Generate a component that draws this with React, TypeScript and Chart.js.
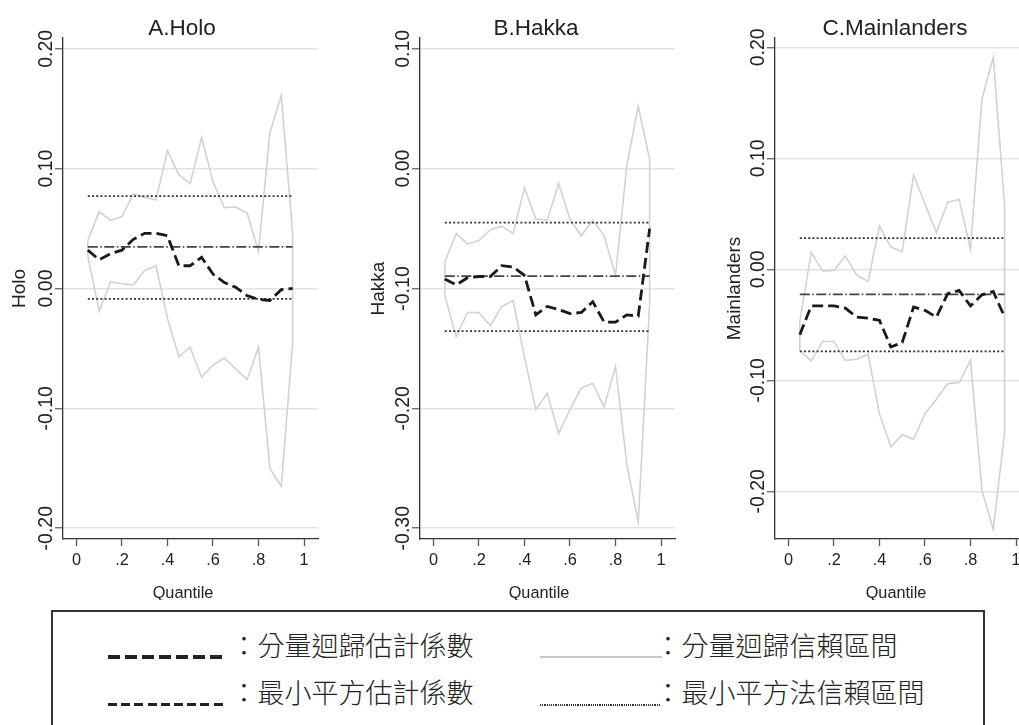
import React, { useEffect, useRef } from "react";
import { Chart, registerables } from "chart.js";

Chart.register(...registerables);

const FONT = '"Liberation Sans", Arial, Helvetica, sans-serif';
const CJK = '"Noto Sans CJK TC", "Noto Sans CJK SC", sans-serif';

// Quantiles at which the regressions were estimated
const quantiles = [0.05, 0.1, 0.15, 0.2, 0.25, 0.3, 0.35, 0.4, 0.45, 0.5, 0.55, 0.6, 0.65, 0.7, 0.75, 0.8, 0.85, 0.9, 0.95];
const xTicks = [0, 0.2, 0.4, 0.6, 0.8, 1];
const xTickLabels = ["0", ".2", ".4", ".6", ".8", "1"];

// A. Holo
const holoQR = [0.032, 0.024, 0.029, 0.032, 0.041, 0.046, 0.046, 0.044, 0.019, 0.019, 0.026, 0.012, 0.005, 0.001, -0.006, -0.009, -0.010, -0.001, 0.0];
const holoUpper = [0.040, 0.064, 0.057, 0.060, 0.079, 0.076, 0.074, 0.115, 0.095, 0.0875, 0.126, 0.089, 0.0675, 0.068, 0.063, 0.031, 0.130, 0.161, 0.046];
const holoLower = [0.027, -0.019, 0.0056, 0.004, 0.003, 0.015, 0.019, -0.025, -0.057, -0.049, -0.074, -0.064, -0.058, -0.067, -0.076, -0.049, -0.150, -0.165, -0.046];
const holoOLS = [0.0347, 0.077, -0.0086]; // coefficient, upper, lower
const holoYTicks = [-0.2, -0.1, 0, 0.1, 0.2];
const holoYLabels = ["-0.20", "-0.10", "0.00", "0.10", "0.20"];

// B. Hakka
const hakkaQR = [-0.092, -0.097, -0.091, -0.090, -0.090, -0.081, -0.082, -0.089, -0.122, -0.115, -0.1175, -0.121, -0.120, -0.111, -0.128, -0.128, -0.122, -0.123, -0.050];
const hakkaUpper = [-0.078, -0.054, -0.063, -0.060, -0.051, -0.048, -0.054, -0.016, -0.042, -0.043, -0.0125, -0.042, -0.056, -0.043, -0.056, -0.089, 0.003, 0.052, 0.008];
const hakkaLower = [-0.106, -0.140, -0.120, -0.120, -0.131, -0.115, -0.110, -0.157, -0.201, -0.1875, -0.221, -0.201, -0.183, -0.179, -0.199, -0.165, -0.247, -0.295, -0.113];
const hakkaOLS = [-0.0897, -0.045, -0.1356];
const hakkaYTicks = [-0.3, -0.2, -0.1, 0, 0.1];
const hakkaYLabels = ["-0.30", "-0.20", "-0.10", "0.00", "0.10"];

// C. Mainlanders
const mainQR = [-0.059, -0.033, -0.033, -0.033, -0.035, -0.043, -0.044, -0.046, -0.070, -0.066, -0.034, -0.037, -0.043, -0.022, -0.019, -0.033, -0.023, -0.020, -0.043];
const mainUpper = [-0.047, 0.015, -0.0015, -0.001, 0.012, -0.005, -0.011, 0.039, 0.020, 0.016, 0.085, 0.059, 0.033, 0.0605, 0.063, 0.018, 0.153, 0.191, 0.057];
const mainLower = [-0.073, -0.0825, -0.065, -0.065, -0.082, -0.081, -0.0765, -0.130, -0.160, -0.149, -0.153, -0.130, -0.117, -0.103, -0.102, -0.082, -0.199, -0.234, -0.147];
const mainOLS = [-0.0226, 0.028, -0.074];
const mainYTicks = [-0.2, -0.1, 0, 0.1, 0.2];
const mainYLabels = ["-0.20", "-0.10", "0.00", "0.10", "0.20"];

// Legend labels
const legendQR = "：分量迴歸估計係數";
const legendQRCI = "：分量迴歸信賴區間";
const legendOLS = "：最小平方估計係數";
const legendOLSCI = "：最小平方法信賴區間";

type PanelProps = {
  left: number;
  width: number;
  title: string;
  titleCx: number;
  quantCx: number;
  yTitle: string;
  yTitleOffset: number;
  qr: number[];
  upper: number[];
  lower: number[];
  ols: number[];
  yMin: number;
  yMax: number;
  yTicks: number[];
  yLabels: string[];
};

const AXIS_W = 63;
const AREA_W = 255;
const CANVAS_H = 600;
const TOP = 38;
const XAXIS_H = 61;

function Panel(p: PanelProps) {
  const ref = useRef<HTMLCanvasElement | null>(null);
  useEffect(() => {
    if (!ref.current) return;
    const up = quantiles.map((q, i) => ({ x: q, y: p.upper[i] }));
    const lo = quantiles.map((q, i) => ({ x: q, y: p.lower[i] })).reverse();
    const poly = [...up, ...lo, up[0]];
    const q0 = quantiles[0];
    const q1 = quantiles[quantiles.length - 1];
    const hline = (v: number) => [{ x: q0, y: v }, { x: q1, y: v }];

    const textPlugin = {
      id: "panelText",
      afterDraw(chart: any) {
        const { ctx, chartArea, scales } = chart;
        ctx.save();
        ctx.fillStyle = "#222";
        ctx.textAlign = "center";
        ctx.textBaseline = "alphabetic";
        ctx.font = `22.5px ${FONT}`;
        ctx.fillText(p.title, p.titleCx - p.left, 34.5);
        ctx.font = `19.5px ${FONT}`;
        p.yTicks.forEach((v, i) => {
          const y = scales.y.getPixelForValue(v);
          ctx.save();
          ctx.translate(chartArea.left - 11.5, y);
          ctx.rotate(-Math.PI / 2);
          ctx.fillText(p.yLabels[i], 0, 0);
          ctx.restore();
        });
        ctx.font = `19px ${FONT}`;
        ctx.save();
        ctx.translate(chartArea.left - p.yTitleOffset, (chartArea.top + chartArea.bottom) / 2);
        ctx.rotate(-Math.PI / 2);
        ctx.fillText(p.yTitle, 0, 0);
        ctx.restore();
        ctx.font = `16.3px ${FONT}`;
        ctx.fillText("Quantile", p.quantCx - p.left, 597.5);
        ctx.restore();
      },
    };

    const chart = new Chart(ref.current, {
      type: "line",
      data: {
        datasets: [
          {
            data: p.qr.map((v, i) => ({ x: quantiles[i], y: v })),
            borderColor: "#1a1a1a",
            borderWidth: 2.8,
            borderDash: [11, 5],
            pointRadius: 0,
            tension: 0,
            fill: false,
          },
          {
            data: hline(p.ols[0]),
            borderColor: "#444",
            borderWidth: 1.8,
            borderDash: [10, 2.5, 1.5, 2.5],
            pointRadius: 0,
            fill: false,
          },
          {
            data: hline(p.ols[1]),
            borderColor: "#333",
            borderWidth: 1.8,
            borderDash: [2, 2.2],
            pointRadius: 0,
            fill: false,
          },
          {
            data: hline(p.ols[2]),
            borderColor: "#333",
            borderWidth: 1.8,
            borderDash: [2, 2.2],
            pointRadius: 0,
            fill: false,
          },
          {
            data: poly,
            borderColor: "#d2d2d2",
            borderWidth: 1.6,
            pointRadius: 0,
            tension: 0,
            fill: false,
          },
        ],
      },
      options: {
        animation: false,
        responsive: false,
        devicePixelRatio: 1,
        events: [],
        layout: { padding: { top: TOP, left: 0, right: p.width - AXIS_W - AREA_W, bottom: 0 } },
        plugins: { legend: { display: false }, tooltip: { enabled: false }, title: { display: false } },
        scales: {
          x: {
            type: "linear",
            min: -0.059,
            max: 1.0615,
            afterBuildTicks: (s: any) => {
              s.ticks = xTicks.map((v) => ({ value: v }));
            },
            afterFit: (s: any) => {
              s.height = XAXIS_H;
            },
            ticks: {
              autoSkip: false,
              maxRotation: 0,
              minRotation: 0,
              padding: 5,
              color: "#222",
              font: { family: FONT, size: 16.3 },
              callback: (v: any) => xTickLabels[xTicks.indexOf(Number(v))] ?? "",
            },
            grid: { drawOnChartArea: false, drawTicks: true, tickLength: 7, tickColor: "#555", tickWidth: 1.3 },
            border: { display: true, color: "#333", width: 1.3 },
          },
          y: {
            type: "linear",
            min: p.yMin,
            max: p.yMax,
            afterBuildTicks: (s: any) => {
              s.ticks = p.yTicks.map((v) => ({ value: v }));
            },
            afterFit: (s: any) => {
              s.width = AXIS_W;
            },
            ticks: { display: false },
            grid: { color: "#e3e3e3", lineWidth: 1.5, drawTicks: true, tickLength: 8, tickColor: "#666", tickWidth: 1.3 },
            border: { display: true, color: "#333", width: 1.3 },
          },
        },
      } as any,
      plugins: [textPlugin],
    } as any);
    return () => chart.destroy();
  }, []);
  return (
    <canvas
      ref={ref}
      width={p.width}
      height={CANVAS_H}
      style={{ position: "absolute", left: p.left, top: 0, width: p.width, height: CANVAS_H }}
    />
  );
}

function dashBg(color: string, on: number, off: number) {
  return `repeating-linear-gradient(to right, ${color} 0px, ${color} ${on}px, transparent ${on}px, transparent ${on + off}px)`;
}

export default function App() {
  const textStyle = (left: number, cy: number): React.CSSProperties => ({
    position: "absolute",
    left,
    top: cy - 18,
    height: 36,
    lineHeight: "36px",
    fontFamily: CJK,
    fontSize: 27,
    fontWeight: 300,
    color: "#222",
    whiteSpace: "nowrap",
  });
  return (
    <div style={{ position: "absolute", left: 0, top: 0, width: 1019, height: 725, overflow: "hidden", background: "#fff" }}>
      <Panel
        left={0}
        width={330}
        title="A.Holo"
        titleCx={182}
        quantCx={183}
        yTitle="Holo"
        yTitleOffset={38}
        qr={holoQR}
        upper={holoUpper}
        lower={holoLower}
        ols={holoOLS}
        yMin={-0.209}
        yMax={0.209}
        yTicks={holoYTicks}
        yLabels={holoYLabels}
      />
      <Panel
        left={357}
        width={330}
        title="B.Hakka"
        titleCx={536}
        quantCx={539}
        yTitle="Hakka"
        yTitleOffset={36}
        qr={hakkaQR}
        upper={hakkaUpper}
        lower={hakkaLower}
        ols={hakkaOLS}
        yMin={-0.309}
        yMax={0.109}
        yTicks={hakkaYTicks}
        yLabels={hakkaYLabels}
      />
      <Panel
        left={712}
        width={330}
        title="C.Mainlanders"
        titleCx={895}
        quantCx={896}
        yTitle="Mainlanders"
        yTitleOffset={35}
        qr={mainQR}
        upper={mainUpper}
        lower={mainLower}
        ols={mainOLS}
        yMin={-0.243}
        yMax={0.2084}
        yTicks={mainYTicks}
        yLabels={mainYLabels}
      />
      {/* Legend box */}
      <div
        style={{
          position: "absolute",
          left: 51,
          top: 610,
          width: 934,
          height: 140,
          border: "2px solid #333",
          boxSizing: "border-box",
        }}
      />
      <div style={{ position: "absolute", left: 108, top: 655, width: 119, height: 3.5, background: dashBg("#222", 12.5, 4.5) }} />
      <div style={textStyle(230.5, 645)}>{legendQR}</div>
      <div style={{ position: "absolute", left: 540, top: 656, width: 122, height: 2, background: "#c8c8c8" }} />
      <div style={textStyle(654.5, 645)}>{legendQRCI}</div>
      <div style={{ position: "absolute", left: 108, top: 703, width: 119, height: 3, background: dashBg("#222", 9, 4.2) }} />
      <div style={textStyle(230.5, 692)}>{legendOLS}</div>
      <div style={{ position: "absolute", left: 540, top: 704, width: 121, height: 2, background: dashBg("#333", 1.2, 1) }} />
      <div style={textStyle(654.5, 692)}>{legendOLSCI}</div>
    </div>
  );
}
